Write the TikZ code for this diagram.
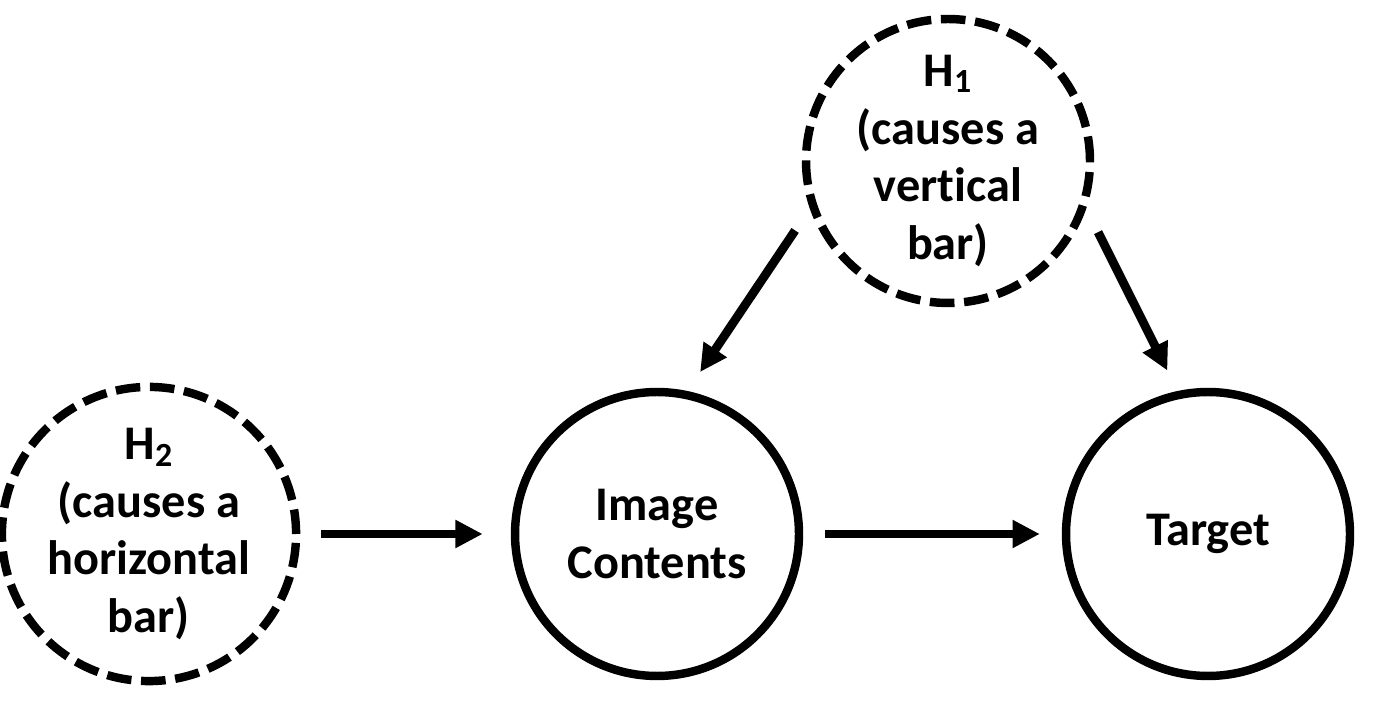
\documentclass[tikz,border=0pt]{standalone}
\usepackage{fontspec}
\setmainfont[Ligatures=NoCommon]{Carlito}
\usetikzlibrary{arrows.meta}

\begin{document}
\begin{tikzpicture}[x=0.02cm, y=0.02cm, font=\bfseries\fontsize{27.5}{33}\selectfont]

% circle styles: solid = observed, dashed = hypothesis
\tikzset{var/.style={circle, draw, line width=4.8pt, minimum size=5.68cm, inner sep=0pt, align=center},
         hyp/.style={var, dash pattern=on 14pt off 5.5pt},
         link/.style={-{Triangle[length=15.5pt,width=15pt]}, line width=5pt}}

\useasboundingbox (0,0) rectangle (1389,710);

% -----------------------------------------
% nodes
% -----------------------------------------
\node[hyp] (hone) at (948,549) {H\textsubscript{1}\\(causes a\\vertical\\bar)};
\node[hyp] (htwo) at (149,176) {H\textsubscript{2}\\(causes a\\horizontal\\bar)};
\node[var] (image) at (657,176) {Image\\Contents};
\node[var] (target) at (1208,176) {Target};

% -----------------------------------------
% arrows
% -----------------------------------------
\draw[link, shorten <=12pt, shorten >=16pt] (htwo.east) -- (image.west);
\draw[link, shorten <=12.5pt, shorten >=12.5pt] (image.east) -- (target.west);
\draw[link, shorten <=15pt, shorten >=13pt] (hone.199) -- (image.78);
\draw[link, shorten <=15pt, shorten >=13pt] (hone.341) -- (target.102);
\end{tikzpicture}
\end{document}
